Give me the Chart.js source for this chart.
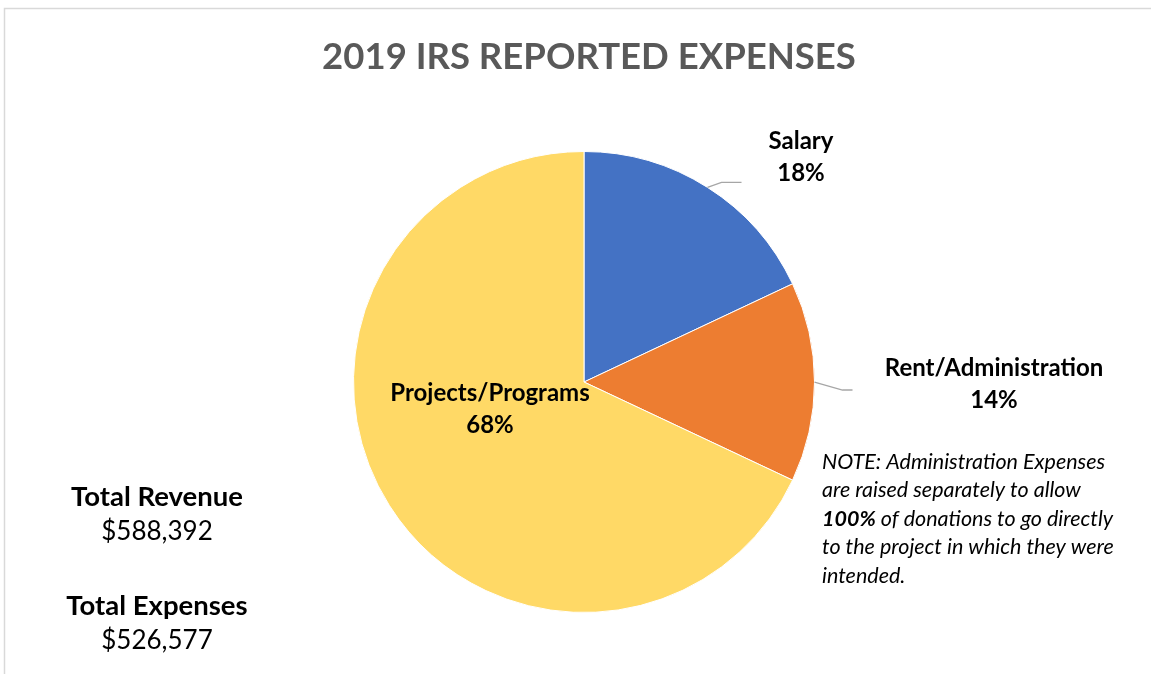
<!DOCTYPE html>
<html lang="en">
<head>
    <meta charset="UTF-8">
    <title>2019 IRS Reported Expenses</title>
    <style>
        body { margin: 0; background: #fff; }
        canvas { display: block; }
    </style>
    <script src="https://cdn.jsdelivr.net/npm/chart.js"></script>
</head>
<body>
    <canvas id="myChart" width="1151" height="674"></canvas>
    <script>
        const categories = ['Salary', 'Rent/Administration', 'Projects/Programs'];
        const percents = [18, 14, 68];
        const colors = ['#4472C4', '#ED7D31', '#FFD966'];
        const totals = [
            ['Total Revenue', '$588,392'],
            ['Total Expenses', '$526,577']
        ];
        const noteLines = [
            [['NOTE: Administration Expenses', false]],
            [['are raised separately to allow', false]],
            [['100%', true], [' of donations to go directly', false]],
            [['to the project in which they were', false]],
            [['intended.', false]]
        ];

        const FONT = 'Lato, "Open Sans", sans-serif';

        const decorPlugin = {
            id: 'decor',
            afterDraw(chart) {
                const ctx = chart.ctx;
                const meta = chart.getDatasetMeta(0);
                ctx.save();

                // frame
                ctx.strokeStyle = '#d9d9d9';
                ctx.lineWidth = 1.5;
                ctx.beginPath();
                ctx.moveTo(4.5, 674);
                ctx.lineTo(4.5, 8.5);
                ctx.lineTo(1151, 8.5);
                ctx.stroke();

                // title
                ctx.fillStyle = '#595959';
                ctx.textAlign = 'center';
                ctx.textBaseline = 'middle';
                ctx.font = 'bold 36.5px ' + FONT;
                ctx.fillText('2019 IRS REPORTED EXPENSES', 589, 57);

                // leader lines
                const arcPt = (i, extra) => {
                    const a = meta.data[i];
                    const mid = (a.startAngle + a.endAngle) / 2;
                    const r = a.outerRadius + extra;
                    return [a.x + Math.cos(mid) * r, a.y + Math.sin(mid) * r];
                };
                ctx.strokeStyle = '#a6a6a6';
                ctx.lineWidth = 1.3;
                let p = arcPt(0, 0);
                ctx.beginPath();
                ctx.moveTo(p[0], p[1]);
                ctx.lineTo(p[0] + 14, p[1] - 5);
                ctx.lineTo(p[0] + 34, p[1] - 5);
                ctx.stroke();
                p = arcPt(1, 0);
                ctx.beginPath();
                ctx.moveTo(p[0], p[1]);
                ctx.lineTo(p[0] + 28, p[1] + 8);
                ctx.lineTo(p[0] + 38, p[1] + 8);
                ctx.stroke();

                // data labels
                ctx.fillStyle = '#000';
                ctx.font = 'bold 24px ' + FONT;
                const labelPos = [[801, 141], [994, 368], [490, 393]];
                categories.forEach((c, i) => {
                    ctx.fillText(c, labelPos[i][0], labelPos[i][1]);
                    ctx.fillText(percents[i] + '%', labelPos[i][0], labelPos[i][1] + 32);
                });

                // totals
                totals.forEach((t, i) => {
                    const y = 497 + i * 109;
                    ctx.font = 'bold 27.5px ' + FONT;
                    ctx.fillText(t[0], 157, y);
                    ctx.font = '26px ' + FONT;
                    ctx.fillText(t[1], 157, y + 35);
                });

                // note
                ctx.textAlign = 'left';
                noteLines.forEach((line, i) => {
                    let x = 822;
                    const y = 462 + i * 28.4;
                    line.forEach(([txt, bold]) => {
                        ctx.font = 'italic ' + (bold ? 'bold ' : '') + '21.5px ' + FONT;
                        ctx.fillText(txt, x, y);
                        x += ctx.measureText(txt).width;
                    });
                });

                ctx.restore();
            }
        };

        const ctx = document.getElementById('myChart').getContext('2d');
        const myChart = new Chart(ctx, {
            type: 'pie',
            data: {
                labels: categories,
                datasets: [{
                    data: percents,
                    backgroundColor: colors,
                    borderColor: '#fff',
                    borderWidth: 1
                }]
            },
            options: {
                responsive: false,
                animation: false,
                layout: {
                    padding: { top: 151, bottom: 61, left: 353, right: 336 }
                },
                plugins: {
                    legend: { display: false },
                    tooltip: { enabled: false },
                    title: { display: false }
                }
            },
            plugins: [decorPlugin]
        });
    </script>
</body>
</html>
